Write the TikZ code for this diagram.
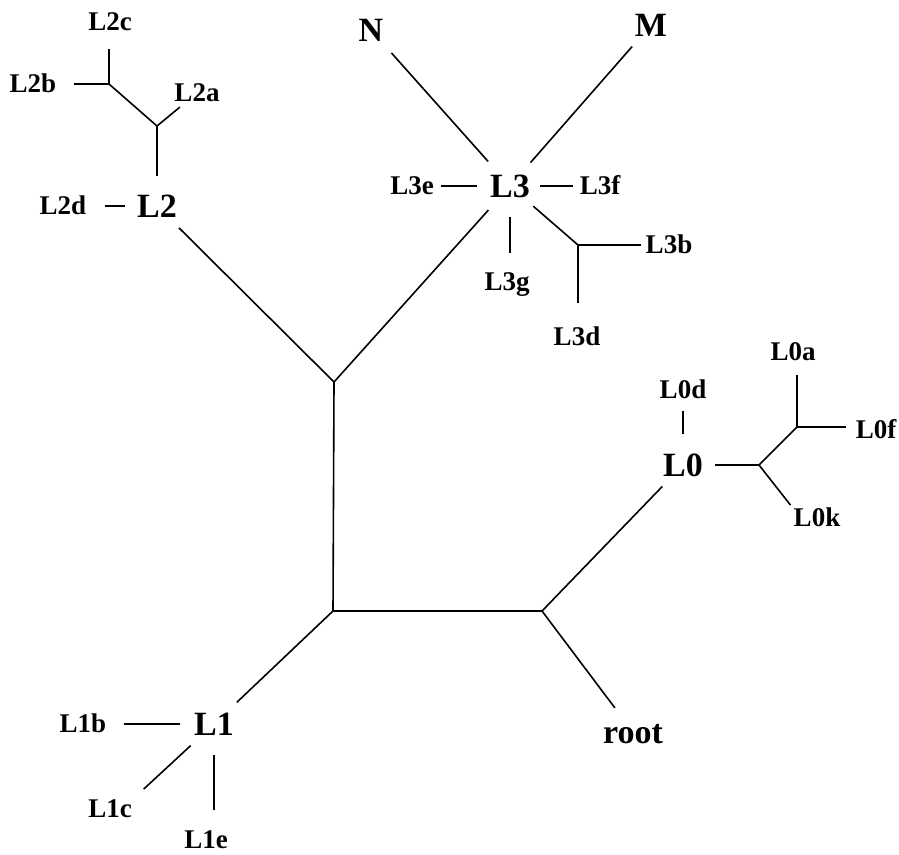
\documentclass[tikz,border=0pt]{standalone}
\usepackage{fontspec}
\setmainfont{Liberation Serif}
\begin{document}
\begin{tikzpicture}[x=1pt,y=-1pt,
    leaf/.style={font=\fontsize{27}{30}\selectfont\bfseries,inner sep=0pt,text height=17.7pt,text depth=0pt},
    hub/.style={font=\fontsize{34}{40}\selectfont\bfseries,inner sep=0pt,text height=22.3pt,text depth=0pt},
    branch/.style={line width=1.6pt}]
    \useasboundingbox (0,0) rectangle (899,854);
    % inner junctions
    \coordinate (A) at (334,382);
    \coordinate (B) at (333,611);
    \coordinate (C) at (542,611);
    \coordinate (J2a) at (157,126);
    \coordinate (J2b) at (109,84);
    \coordinate (J3) at (578,245);
    \coordinate (J0a) at (759,465);
    \coordinate (J0b) at (797,427);
    % labels
    \node[hub] (L2) at (157,206) {L2};
    \node[hub] (L3) at (510,186) {L3};
    \node[hub] (L0) at (683,465) {L0};
    \node[hub] (L1) at (214,724) {L1};
    \node[hub] (N) at (371,30) {N};
    \node[hub] (M) at (651,25) {M};
    \node[hub] (root) at (633,732) {root};
    \node[leaf] (L2c) at (110,22) {L2c};
    \node[leaf] (L2b) at (33,84) {L2b};
    \node[leaf] (L2a) at (197,93) {L2a};
    \node[leaf] (L2d) at (63,206) {L2d};
    \node[leaf] (L3e) at (412,186) {L3e};
    \node[leaf] (L3f) at (600,186) {L3f};
    \node[leaf] (L3g) at (507,282) {L3g};
    \node[leaf] (L3b) at (669,245) {L3b};
    \node[leaf] (L3d) at (577,337) {L3d};
    \node[leaf] (L0d) at (683,390) {L0d};
    \node[leaf] (L0a) at (793,352) {L0a};
    \node[leaf] (L0f) at (876,430) {L0f};
    \node[leaf] (L0k) at (817,518) {L0k};
    \node[leaf] (L1b) at (83,724) {L1b};
    \node[leaf] (L1c) at (110,809) {L1c};
    \node[leaf] (L1e) at (206,840) {L1e};
    % backbone
    \draw[branch,shorten >=15pt] (A) -- (L2);
    \draw[branch,shorten >=17pt] (A) -- (L3);
    \draw[branch] (A) -- (B) -- (C);
    \draw[branch,shorten >=15pt] (B) -- (L1);
    \draw[branch,shorten >=14pt] (C) -- (L0);
    \draw[branch,shorten >=16pt] (C) -- (root);
    % L2 side
    \draw[branch,shorten <=19pt] (L2) -- (J2a);
    \draw[branch,shorten >=8pt] (J2a) -- (L2a);
    \draw[branch] (J2a) -- (J2b);
    \draw[branch,shorten >=17.5pt] (J2b) -- (J2b -| L2b.east);
    \draw[branch,shorten >=18pt] (J2b) -- (J2b |- L2c.south);
    \draw[branch,shorten <=18.5pt,shorten >=12pt] (L2d.east) -- (L2d.east -| L2.west);
    % L3 side
    \draw[branch,shorten <=17.7pt,shorten >=15.5pt] (L3) -- (N);
    \draw[branch,shorten <=16pt,shorten >=13.5pt] (L3) -- (M);
    \draw[branch,shorten <=7.5pt,shorten >=13pt] (L3e.east) -- (L3e.east -| L3.west);
    \draw[branch,shorten <=10pt,shorten >=7pt] (L3.east) -- (L3.east -| L3f.west);
    \draw[branch,shorten <=20pt,shorten >=20pt] (L3.south) -- (L3.south |- L3g.north);
    \draw[branch,shorten <=13.5pt] (L3) -- (J3);
    \draw[branch,shorten >=5pt] (J3) -- (J3 -| L3b.west);
    \draw[branch,shorten >=25pt] (J3) -- (J3 |- L3d.north);
    % L0 side
    \draw[branch,shorten <=20pt,shorten >=12pt] (L0.north) -- (L0.north |- L0d.south);
    \draw[branch,shorten <=12pt] (L0.east) -- (J0a);
    \draw[branch] (J0a) -- (J0b);
    \draw[branch,shorten >=14pt] (J0b) -- (J0b |- L0a.south);
    \draw[branch,shorten >=10pt] (J0b) -- (J0b -| L0f.west);
    \draw[branch,shorten >=5pt] (J0a) -- (L0k.north west);
    % L1 side
    \draw[branch,shorten <=17.5pt,shorten >=13.5pt] (L1b.east) -- (L1b.east -| L1.west);
    \draw[branch,shorten <=15pt,shorten >=16pt] (L1) -- (L1c.north east);
    \draw[branch,shorten <=20pt,shorten >=21pt] (L1.south) -- (L1.south |- L1e.north);
\end{tikzpicture}
\end{document}
